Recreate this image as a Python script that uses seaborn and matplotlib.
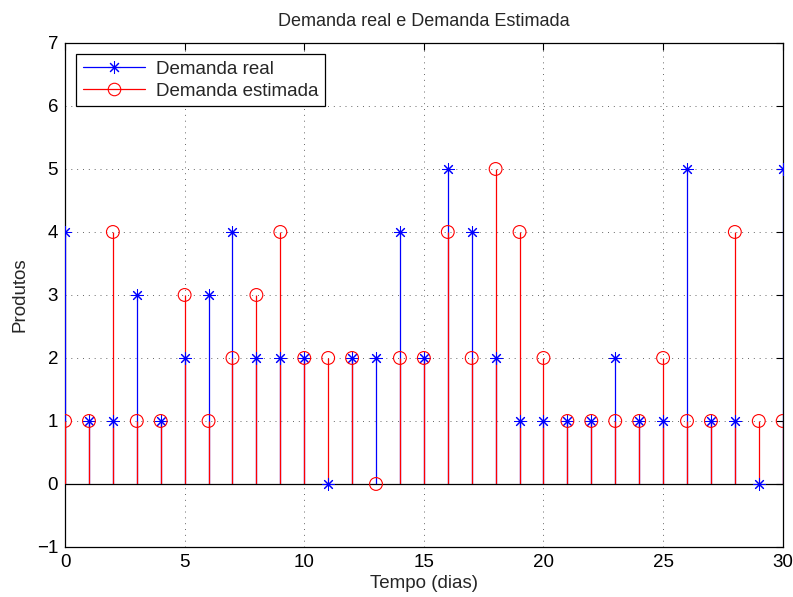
import matplotlib
matplotlib.use("Agg")
import matplotlib.pyplot as plt
import seaborn as sns
import numpy as np
import pandas as pd
from matplotlib.lines import Line2D

dias = list(range(0, 31))
demanda_real = [4, 1, 1, 3, 1, 2, 3, 4, 2, 2, 2, 0, 2, 2, 4, 2, 5, 4, 2, 1,
                1, 1, 1, 2, 1, 1, 5, 1, 1, 0, 5]
demanda_estimada = [1, 1, 4, 1, 1, 3, 1, 2, 3, 4, 2, 2, 2, 0, 2, 2, 4, 2, 5, 4,
                    2, 1, 1, 1, 1, 2, 1, 1, 4, 1, 1]
x_ticks = [0, 5, 10, 15, 20, 25, 30]
y_ticks = [-1, 0, 1, 2, 3, 4, 5, 6, 7]

sns.set_style("white")
plt.rcParams['font.family'] = ['Liberation Sans', 'DejaVu Sans']
plt.rcParams['axes.unicode_minus'] = True

df = pd.DataFrame({"dia": dias, "real": demanda_real, "estimada": demanda_estimada})

fig = plt.figure(figsize=(7.93, 5.97), dpi=100)
ax = fig.add_axes([0.082, 0.0838, 0.905, 0.8442])

blue = "#0000ff"
red = "#ff0000"
asterisk = (8, 2, 0)

# stems
ax.vlines(df["dia"], 0, df["real"], colors=blue, linewidth=0.9, zorder=3)
ax.vlines(df["dia"], 0, df["estimada"], colors=red, linewidth=0.9, zorder=4)
ax.axhline(0, color="black", linewidth=0.9, zorder=5)

# markers
sns.scatterplot(data=df, x="dia", y="real", marker=asterisk, s=70,
                color=blue, linewidth=0.75, ax=ax, zorder=6, legend=False)
sns.scatterplot(data=df, x="dia", y="estimada", marker="o", s=85,
                facecolor="none", edgecolor=red, linewidth=0.8, ax=ax,
                zorder=7, legend=False)

ax.set_xlim(0, 30)
ax.set_ylim(-1, 7)
ax.set_xticks(x_ticks)
ax.set_yticks(y_ticks)
ax.set_yticklabels([str(v).replace("-", "\u2212") for v in y_ticks])
ax.tick_params(direction="in", top=True, right=True, length=5, width=0.8,
               labelsize=13.5, colors="black", pad=5)
ax.grid(True, linestyle=(0, (1, 5)), color="black", linewidth=0.7, alpha=0.6)
for s in ax.spines.values():
    s.set_color("black")
    s.set_linewidth(0.9)

ax.set_title("Demanda real e Demanda Estimada", fontsize=13, pad=12)
ax.set_xlabel("Tempo (dias)", fontsize=13.5, labelpad=3)
ax.set_ylabel("Produtos", fontsize=13.5, labelpad=6)

handles = [
    Line2D([], [], color=blue, marker=asterisk, markersize=9, linewidth=0.9,
           markevery=[1], markeredgewidth=0.75),
    Line2D([], [], color=red, marker="o", markersize=9, linewidth=0.9,
           markerfacecolor="none", markevery=[1], markeredgewidth=0.8),
]
leg = ax.legend(handles, ["Demanda real", "Demanda estimada"], loc="upper left",
                fontsize=13.5, frameon=True, fancybox=False, edgecolor="black",
                framealpha=1, borderpad=0.35, handlelength=3.3,
                labelspacing=0.25, borderaxespad=0.6, handletextpad=0.6)
leg.get_frame().set_linewidth(0.9)

fig.savefig("out.png", dpi=100)
